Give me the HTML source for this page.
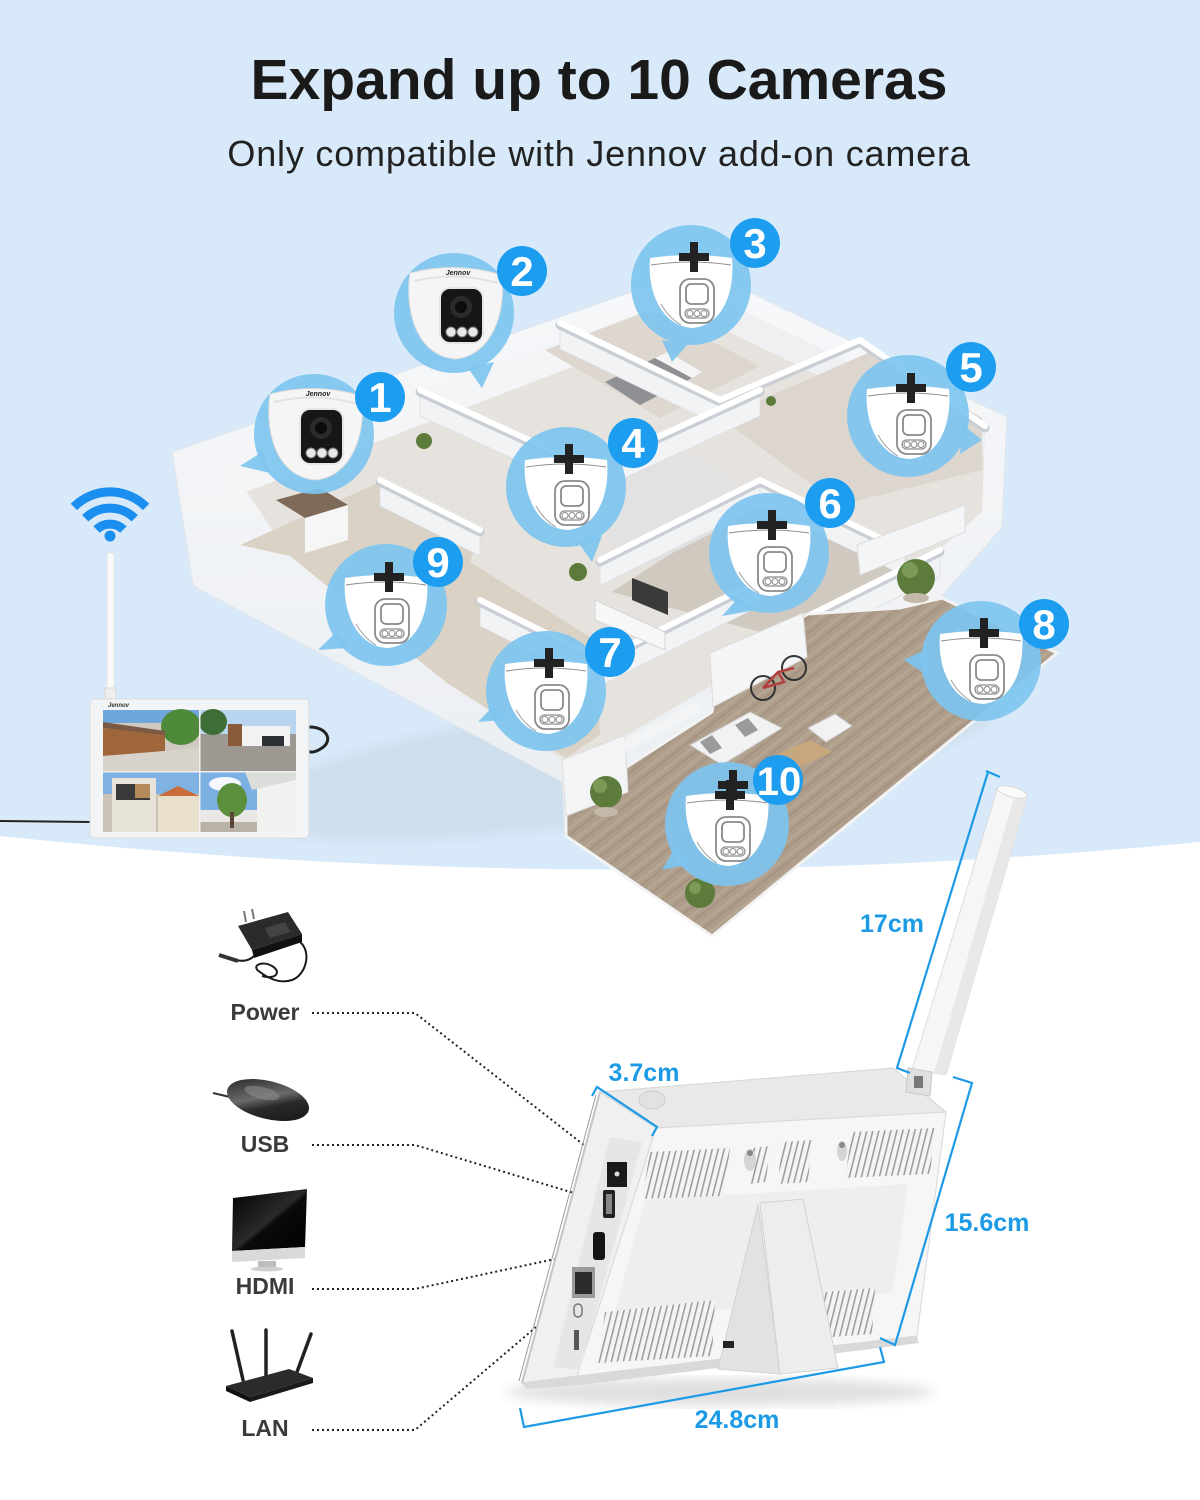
<!DOCTYPE html>
<html><head><meta charset="utf-8">
<style>
html,body{margin:0;padding:0;background:#fff;}
svg{display:block;}
text{font-family:"Liberation Sans",Arial,sans-serif;}
</style></head>
<body>
<svg width="1200" height="1500" viewBox="0 0 1200 1500" xmlns="http://www.w3.org/2000/svg">
<defs>
  <pattern id="wood" patternUnits="userSpaceOnUse" width="12" height="12" patternTransform="rotate(-38)">
    <rect width="12" height="12" fill="#ae9d8b"/>
    <rect width="12" height="1.2" y="0" fill="#a08f7d"/>
    <rect width="12" height="3" y="6" fill="#b5a593"/>
  </pattern>
  <pattern id="vent" patternUnits="userSpaceOnUse" width="6" height="80" patternTransform="skewX(-14)">
    <rect width="6" height="80" fill="#f4f4f4"/>
    <rect x="2" width="1.6" height="80" fill="#9c9c9c"/>
  </pattern>
  <linearGradient id="slab" x1="0" y1="0" x2="0" y2="1">
    <stop offset="0" stop-color="#f7f8fa"/><stop offset="1" stop-color="#e8ecf0"/>
  </linearGradient>
  <linearGradient id="mouseg" x1="0" y1="0" x2="1" y2="1">
    <stop offset="0" stop-color="#1c1c1c"/><stop offset="0.45" stop-color="#6a6a6a"/><stop offset="0.6" stop-color="#2a2a2a"/><stop offset="1" stop-color="#111"/>
  </linearGradient>
  <linearGradient id="imacg" x1="0" y1="0" x2="1" y2="1">
    <stop offset="0" stop-color="#000"/><stop offset="0.5" stop-color="#2a2a2a"/><stop offset="0.55" stop-color="#0a0a0a"/><stop offset="1" stop-color="#000"/>
  </linearGradient>
  <filter id="blur6"><feGaussianBlur stdDeviation="6"/></filter>
  <g id="dome">
    <path d="M-41,-30 Q0,-36 41,-30 C44,4 32,37 2,40 C-28,39 -44,6 -41,-30 Z" fill="#fff"/>
    <path d="M-40,-23 Q0,-29 40,-23" fill="none" stroke="#8d8d8d" stroke-width="1"/>
    <path d="M-30,16 Q-22,30 -10,37" fill="none" stroke="#a0a0a0" stroke-width="1"/>
    <rect x="-11" y="-9" width="34" height="44" rx="10" fill="#fff" stroke="#8a8a8a" stroke-width="1.8"/>
    <rect x="-5" y="-4" width="22" height="20" rx="5" fill="#fff" stroke="#8a8a8a" stroke-width="1.8"/>
    <rect x="-6" y="21" width="24" height="9" rx="4.5" fill="#fff" stroke="#8a8a8a" stroke-width="1.3"/>
    <circle cx="-1" cy="25.5" r="3" fill="none" stroke="#8a8a8a" stroke-width="1"/>
    <circle cx="6" cy="25.5" r="3" fill="none" stroke="#8a8a8a" stroke-width="1"/>
    <circle cx="13" cy="25.5" r="3" fill="none" stroke="#8a8a8a" stroke-width="1"/>
    <rect x="-12" y="-35" width="30" height="8" fill="#222"/>
    <rect x="-1" y="-46" width="8" height="30" fill="#222"/>
  </g>
</defs>

<!-- background -->
<rect width="1200" height="1500" fill="#ffffff"/>
<path d="M0,0 H1200 V842 Q600,900 0,836 Z" fill="#d8eaf9"/>

<!-- title -->
<text x="599" y="99" font-size="57" font-weight="bold" fill="#1a1a1a" text-anchor="middle">Expand up to 10 Cameras</text>
<text x="599" y="166" font-size="36" fill="#222" text-anchor="middle" letter-spacing="0.8">Only compatible with Jennov add-on camera</text>

<!-- ================= HOUSE ================= -->
<ellipse cx="620" cy="760" rx="380" ry="60" fill="#b9c9d8" opacity="0.35" filter="url(#blur6)" transform="rotate(-8 620 760)"/>
<path d="M172,452 L700,268 L1007,417 L1002,528 L940,598 L1057,653 L712,936 L565,836 L562,782 L193,586 Z" fill="url(#slab)" stroke="#dfe4ea" stroke-width="1"/>
<!-- interior floor -->
<path d="M218,468 L700,290 L985,428 L982,512 L930,558 L610,745 L566,762 L447,683 L290,556 L240,482 Z" fill="#e6e3de"/>
<!-- back wall inner faces -->
<path d="M218,468 L700,290 L700,318 L225,500 Z" fill="#f4f5f6"/>
<path d="M700,290 L985,428 L983,455 L700,318 Z" fill="#eef0f2"/>
<!-- beige living floor -->
<path d="M240,545 L380,482 L480,532 L470,562 L595,640 L600,735 L566,758 L447,683 L290,556 Z" fill="#dbd2c6"/>
<!-- bedroom top -->
<path d="M545,350 L650,310 L760,366 L660,418 Z" fill="#ddd7cf"/>
<path d="M605,382 L655,358 L692,378 L640,405 Z" fill="#8f9093"/>
<path d="M655,358 L668,352 L702,372 L692,378 Z" fill="#f4f4f4"/>
<!-- right rooms -->
<path d="M720,418 L870,352 L982,418 L982,470 L840,505 Z" fill="#dcd6ce"/>
<path d="M612,592 L750,502 L905,562 L790,640 Z" fill="#d0c9bf"/>
<path d="M600,485 L680,447 L735,480 L735,522 L652,563 L610,542 Z" fill="#e2e2e2"/>
<!-- kitchen -->
<path d="M276,500 L320,488 L348,505 L305,518 Z" fill="#7e6a58"/>
<path d="M305,518 L348,505 L348,540 L305,553 Z" fill="#f6f6f6"/>
<!-- interior wall faces -->
<g fill="#f2f3f4" stroke="#dadde0" stroke-width="0.8">
  <path d="M420,392 L590,470 L590,494 L420,416 Z"/>
  <path d="M560,325 L720,402 L720,426 L560,349 Z"/>
  <path d="M590,470 L760,392 L760,416 L590,494 Z"/>
  <path d="M600,562 L760,482 L760,506 L600,586 Z"/>
  <path d="M480,602 L600,662 L600,686 L480,626 Z"/>
  <path d="M600,662 L760,582 L760,606 L600,686 Z"/>
  <path d="M800,622 L940,552 L940,576 L800,646 Z"/>
  <path d="M380,482 L480,532 L480,556 L380,506 Z"/>
  <path d="M760,482 L905,552 L905,576 L760,506 Z"/>
</g>
<!-- interior walls -->
<g stroke="#c9ced4" stroke-width="9" stroke-linecap="round" fill="none">
  <path d="M420,392 L590,470"/><path d="M560,325 L720,402"/><path d="M720,402 L860,342"/>
  <path d="M590,470 L760,392"/><path d="M600,562 L760,482"/><path d="M760,482 L905,552"/>
  <path d="M480,602 L600,662"/><path d="M600,662 L760,582"/><path d="M800,622 L940,552"/>
  <path d="M380,482 L480,532"/><path d="M860,342 L985,428"/>
</g>
<g stroke="#ffffff" stroke-width="6" stroke-linecap="round" fill="none">
  <path d="M420,390 L590,468"/><path d="M560,323 L720,400"/><path d="M720,400 L860,340"/>
  <path d="M590,468 L760,390"/><path d="M600,560 L760,480"/><path d="M760,480 L905,550"/>
  <path d="M480,600 L600,660"/><path d="M600,660 L760,580"/><path d="M800,620 L940,550"/>
  <path d="M380,480 L480,530"/><path d="M860,340 L985,426"/>
</g>
<!-- tv -->
<path d="M632,578 L668,592 L668,615 L632,600 Z" fill="#3a3a3a"/>
<path d="M595,600 L665,632 L665,650 L595,620 Z" fill="#f7f7f7" stroke="#d5d5d5"/>
<!-- wood patio -->
<path d="M566,836 L566,790 L625,768 L712,712 L720,662 L808,614 L900,608 L942,598 L1057,653 L712,936 Z" fill="url(#wood)" stroke="#f3f3f3" stroke-width="3"/>
<!-- walls near patio -->
<path d="M710,653 L803,613 L807,657 L713,707 Z" fill="#f4f5f6" stroke="#dcdcdc"/>
<path d="M857,545 L965,505 L965,532 L860,575 Z" fill="#f4f5f6" stroke="#dcdcdc"/>
<path d="M562,760 L625,735 L628,792 L566,816 Z" fill="#f3f4f5" stroke="#dcdcdc"/>
<path d="M625,740 L700,700 L700,712 L625,752 Z" fill="#f3f4f5"/>
<!-- furniture -->
<path d="M690,745 L750,712 L782,728 L722,765 Z" fill="#f2f2f2" stroke="#c9c9c9"/>
<path d="M700,742 L712,735 L722,748 L710,754 Z" fill="#9a9a9a"/>
<path d="M735,725 L748,718 L758,730 L745,737 Z" fill="#9a9a9a"/>
<path d="M808,728 L835,714 L852,726 L826,742 Z" fill="#f2f2f2" stroke="#c9c9c9"/>
<path d="M775,755 L810,740 L832,752 L797,768 Z" fill="#c8a77c"/>
<!-- bike -->
<g fill="none" stroke="#333" stroke-width="2">
  <circle cx="763" cy="688" r="12"/><circle cx="794" cy="668" r="12"/>
</g>
<path d="M763,688 L778,672 L794,668 M778,672 L784,682 L763,688" stroke="#b0413e" stroke-width="2.5" fill="none"/>
<!-- plants -->
<g fill="#5d7c3b">
  <circle cx="424" cy="441" r="8"/><circle cx="578" cy="572" r="9"/>
  <circle cx="606" cy="792" r="16"/><circle cx="916" cy="578" r="19"/>
  <circle cx="700" cy="893" r="15"/><circle cx="771" cy="401" r="5"/>
</g>
<g fill="#7a9a55"><circle cx="600" cy="786" r="7"/><circle cx="910" cy="570" r="8"/><circle cx="695" cy="888" r="6"/></g>
<g fill="#c4b8a8"><ellipse cx="606" cy="812" rx="12" ry="5"/><ellipse cx="916" cy="598" rx="13" ry="5"/></g>

<!-- ================= BUBBLES ================= -->
<g fill="#7ec4ef" fill-opacity="0.92">
  <circle cx="314" cy="434" r="60"/><polygon points="262,452 240,466 270,473"/>
  <circle cx="454" cy="313" r="60"/><polygon points="468,368 482,388 494,362"/>
  <circle cx="691" cy="285" r="60"/><polygon points="662,340 672,362 688,344"/>
  <circle cx="566" cy="487" r="60"/><polygon points="578,542 592,562 602,536"/>
  <circle cx="908" cy="416" r="61"/><polygon points="962,424 982,440 960,454"/>
  <circle cx="769" cy="553" r="60"/><polygon points="738,598 722,616 756,610"/>
  <circle cx="546" cy="691" r="60"/><polygon points="494,705 478,722 504,720"/>
  <circle cx="981" cy="661" r="60"/><polygon points="928,648 904,660 928,676"/>
  <circle cx="386" cy="605" r="61"/><polygon points="336,632 318,650 348,648"/>
  <circle cx="727" cy="824" r="62"/><polygon points="676,846 662,870 692,864"/>
</g>

<!-- real cams 1 & 2 -->
<g transform="translate(314,434)">
  <path d="M-44,-40 Q2,-52 48,-38 C52,0 38,42 2,46 C-34,44 -50,4 -44,-40 Z" fill="#f5f5f5" stroke="#dcdcdc"/>
  <path d="M-40,-32 Q2,-42 44,-30" fill="none" stroke="#e2e2e2" stroke-width="2"/>
  <rect x="-15" y="-26" width="45" height="57" rx="11" fill="#e6e6e6"/>
  <rect x="-13" y="-24" width="41" height="53" rx="9" fill="#161616"/>
  <circle cx="7" cy="-6" r="11" fill="#2b2b2b"/><circle cx="7" cy="-6" r="6" fill="#0c0c0c"/>
  <circle cx="-3" cy="19" r="5" fill="#e8e8e8" stroke="#777"/><circle cx="8" cy="19" r="5" fill="#e8e8e8" stroke="#777"/><circle cx="19" cy="19" r="5" fill="#e8e8e8" stroke="#777"/>
  <text x="4" y="-38" font-size="7" font-weight="bold" font-style="italic" fill="#222" text-anchor="middle">Jennov</text>
</g>
<g transform="translate(454,313)">
  <path d="M-44,-40 Q2,-52 48,-38 C52,0 38,42 2,46 C-34,44 -50,4 -44,-40 Z" fill="#f5f5f5" stroke="#dcdcdc"/>
  <path d="M-40,-32 Q2,-42 44,-30" fill="none" stroke="#e2e2e2" stroke-width="2"/>
  <rect x="-15" y="-26" width="45" height="57" rx="11" fill="#e6e6e6"/>
  <rect x="-13" y="-24" width="41" height="53" rx="9" fill="#161616"/>
  <circle cx="7" cy="-6" r="11" fill="#2b2b2b"/><circle cx="7" cy="-6" r="6" fill="#0c0c0c"/>
  <circle cx="-3" cy="19" r="5" fill="#e8e8e8" stroke="#777"/><circle cx="8" cy="19" r="5" fill="#e8e8e8" stroke="#777"/><circle cx="19" cy="19" r="5" fill="#e8e8e8" stroke="#777"/>
  <text x="4" y="-38" font-size="7" font-weight="bold" font-style="italic" fill="#222" text-anchor="middle">Jennov</text>
</g>

<!-- outline domes -->
<use href="#dome" transform="translate(691,288)"/>
<use href="#dome" transform="translate(566,490)"/>
<use href="#dome" transform="translate(908,419)"/>
<use href="#dome" transform="translate(769,556)"/>
<use href="#dome" transform="translate(546,694)"/>
<use href="#dome" transform="translate(981,664)"/>
<use href="#dome" transform="translate(386,608)"/>
<use href="#dome" transform="translate(727,826)"/>

<!-- number badges -->
<g fill="#1c9df0">
  <circle cx="380" cy="397" r="25"/><circle cx="522" cy="271" r="25"/><circle cx="755" cy="243" r="25"/>
  <circle cx="633" cy="443" r="25"/><circle cx="971" cy="367" r="25"/><circle cx="830" cy="503" r="25"/>
  <circle cx="610" cy="652" r="25"/><circle cx="1044" cy="624" r="25"/><circle cx="438" cy="562" r="25"/>
  <circle cx="778" cy="780" r="25"/>
</g>
<g fill="#fff" font-size="42" font-weight="bold" text-anchor="middle">
  <text x="380" y="412">1</text><text x="522" y="286">2</text><text x="755" y="258">3</text>
  <text x="633" y="458">4</text><text x="971" y="382">5</text><text x="830" y="518">6</text>
  <text x="610" y="667">7</text><text x="1044" y="639">8</text><text x="438" y="577">9</text>
  <text x="779" y="795" font-size="40">10</text>
</g>
<rect x="718" y="781" width="30" height="8" fill="#222"/><rect x="729" y="770" width="8" height="30" fill="#222"/>

<!-- ================= MONITOR ================= -->
<rect x="107" y="553" width="7" height="146" fill="#fafafa" stroke="#e0e4e8"/>
<rect x="105" y="688" width="11" height="12" fill="#eeeeee" stroke="#d8d8d8"/>
<g fill="none" stroke="#1a8ff0" stroke-width="9">
  <path d="M96.6,529.6 A19,19 0 0 1 123.4,529.6"/>
  <path d="M85.3,518.3 A35,35 0 0 1 134.7,518.3"/>
  <path d="M73.9,506.9 A51,51 0 0 1 146.1,506.9"/>
</g>
<circle cx="110" cy="536" r="5.5" fill="#1a8ff0"/>
<path d="M0,821 L91,822" stroke="#222" stroke-width="2"/>
<path d="M308,727 C326,726 334,740 322,748 C316,752 311,753 308,751" stroke="#222" stroke-width="3" fill="none"/>
<rect x="90" y="699" width="219" height="139" rx="4" fill="#f3f4f5" stroke="#d7dadd"/>
<!-- TL -->
<rect x="103" y="710" width="96" height="61" fill="#cfc9c0"/>
<rect x="103" y="710" width="96" height="13" fill="#6fa6dc"/>
<ellipse cx="181" cy="727" rx="20" ry="18" fill="#4f8a3a"/>
<polygon points="103,722 165,731 165,736 103,728" fill="#7a5a45"/>
<polygon points="103,728 165,735 165,751 103,756" fill="#a0663b"/>
<polygon points="103,756 165,751 199,748 199,771 103,771" fill="#d7d2ca"/>
<!-- TR -->
<rect x="200" y="710" width="96" height="61" fill="#9d9891"/>
<rect x="200" y="710" width="96" height="24" fill="#b8d4ee"/>
<ellipse cx="213" cy="722" rx="14" ry="13" fill="#3e6e35"/>
<rect x="228" y="726" width="62" height="20" fill="#f2f2f2"/>
<rect x="228" y="724" width="14" height="22" fill="#8a5a3a"/>
<rect x="262" y="736" width="22" height="10" fill="#2d3136"/>
<!-- BL -->
<rect x="103" y="772" width="96" height="60" fill="#cbc3b8"/>
<rect x="103" y="772" width="96" height="22" fill="#7fb1e2"/>
<rect x="112" y="778" width="44" height="54" fill="#e8e3d9"/>
<rect x="116" y="784" width="34" height="16" fill="#3a3a3a"/>
<rect x="135" y="784" width="15" height="14" fill="#b58a5a"/>
<rect x="158" y="796" width="41" height="36" fill="#e8dfcc"/>
<polygon points="158,796 178,786 199,796" fill="#c96b3a"/>
<!-- BR -->
<rect x="200" y="772" width="96" height="60" fill="#7cb0e2"/>
<ellipse cx="225" cy="784" rx="16" ry="7" fill="#f4f7fb"/>
<rect x="200" y="810" width="96" height="22" fill="#e9e8e4"/>
<rect x="200" y="822" width="96" height="10" fill="#b9b2a6"/>
<ellipse cx="232" cy="800" rx="15" ry="17" fill="#5b8f3c"/>
<rect x="230" y="812" width="4" height="16" fill="#5a4632"/>
<rect x="257" y="772" width="39" height="60" fill="#f1f1ef"/>
<polygon points="245,772 296,772 296,780 252,790" fill="#dcdcda"/>
<rect x="199" y="710" width="1.5" height="122" fill="#f0f0f0"/>
<rect x="103" y="771" width="193" height="1.5" fill="#f0f0f0"/>
<text x="108" y="707" font-size="6" font-weight="bold" font-style="italic" fill="#333">Jennov</text>

<!-- ================= ACCESSORIES ================= -->
<g>
  <path d="M238,926 L288,912 L302,934 L252,950 Z" fill="#2b2b2b"/>
  <path d="M252,950 L302,934 L302,942 L254,958 Z" fill="#111"/>
  <path d="M265,928 L285,922 L290,932 L270,938 Z" fill="#444"/>
  <path d="M246,922 L244,911 M254,919 L252,909" stroke="#777" stroke-width="2"/>
  <path d="M300,942 C312,952 306,975 292,980 C280,984 268,978 260,972 C250,966 262,960 272,966 C282,972 276,980 262,976" stroke="#1a1a1a" stroke-width="2" fill="none"/>
  <path d="M254,956 C250,960 244,962 236,960" stroke="#1a1a1a" stroke-width="2" fill="none"/>
  <path d="M219,955 L238,961" stroke="#333" stroke-width="4"/>
</g>
<g>
  <path d="M213,1093 L230,1097" stroke="#333" stroke-width="2"/>
  <ellipse cx="268" cy="1100" rx="42" ry="19" fill="url(#mouseg)" transform="rotate(14 268 1100)"/>
  <ellipse cx="262" cy="1093" rx="18" ry="6" fill="#8a8a8a" opacity="0.6" transform="rotate(14 262 1093)"/>
</g>
<g>
  <polygon points="233,1198 307,1189 305,1247 232,1251" fill="url(#imacg)"/>
  <polygon points="232,1251 305,1247 305,1258 232,1262" fill="#d9d9d9"/>
  <rect x="258" y="1261" width="18" height="7" fill="#bdbdbd"/>
  <ellipse cx="267" cy="1269" rx="16" ry="2.5" fill="#cfcfcf"/>
</g>
<g>
  <path d="M243,1380 L232,1331 M266,1376 L266,1330 M297,1372 L311,1334" stroke="#222" stroke-width="3.5" stroke-linecap="round"/>
  <polygon points="226,1386 289,1369 313,1378 250,1397" fill="#2b2b2b"/>
  <polygon points="226,1386 250,1397 250,1402 226,1391" fill="#111"/>
  <polygon points="250,1397 313,1378 313,1383 250,1402" fill="#1a1a1a"/>
</g>
<g font-size="23" font-weight="bold" fill="#3b3b3b" text-anchor="middle">
  <text x="265" y="1020">Power</text>
  <text x="265" y="1152">USB</text>
  <text x="265" y="1294">HDMI</text>
  <text x="265" y="1436">LAN</text>
</g>
<g fill="none" stroke="#222" stroke-width="2" stroke-dasharray="2 3">
  <path d="M312,1013 H415 L612,1167"/>
  <path d="M312,1145 H415 L607,1203"/>
  <path d="M312,1289 H415 L597,1250"/>
  <path d="M312,1430 H415 L575,1294"/>
</g>

<!-- ================= DEVICE ================= -->
<ellipse cx="720" cy="1392" rx="215" ry="14" fill="#000" opacity="0.12" filter="url(#blur6)"/>
<polygon points="997,790 1027,797 946,1075 912,1070" fill="#f6f6f6" stroke="#dcdcdc"/>
<polygon points="1015,794 1027,797 946,1075 934,1073" fill="#e8e8e8"/>
<ellipse cx="1012" cy="792" rx="15" ry="5" fill="#fbfbfb" stroke="#dcdcdc" transform="rotate(15 1012 792)"/>
<polygon points="600,1092 893,1068 946,1112 656,1128" fill="#e9e9e9" stroke="#d6d6d6"/>
<polygon points="600,1092 656,1128 577,1376 522,1383" fill="#f0f0f0" stroke="#d6d6d6"/>
<polygon points="656,1128 946,1112 917,1336 577,1376" fill="#f6f6f6" stroke="#d8d8d8"/>
<polygon points="645,1200 908,1184 893,1292 612,1322" fill="#eeeeee"/>
<polygon points="522,1383 577,1376 917,1336 919,1343 580,1385 526,1389" fill="#d9d9d9"/>
<path d="M600,1092 L522,1383" stroke="#c4c4c4" stroke-width="2"/>
<path d="M596,1095 L519,1381" stroke="#9c9c9c" stroke-width="1"/>
<ellipse cx="652" cy="1100" rx="13" ry="9" fill="#e2e2e2" stroke="#cfcfcf"/>
<polygon points="908,1068 932,1072 930,1096 906,1092" fill="#e0e0e0" stroke="#c8c8c8"/>
<rect x="914" y="1076" width="9" height="12" fill="#777"/>
<polygon points="610,1137 642,1142 580,1370 553,1367" fill="#e6e6e6"/>
<rect x="607" y="1162" width="20" height="25" fill="#1a1a1a"/>
<circle cx="617" cy="1174" r="2.5" fill="#ddd"/>
<rect x="603" y="1190" width="12" height="28" rx="2" fill="#222"/>
<rect x="606" y="1194" width="6" height="20" fill="#888"/>
<rect x="593" y="1232" width="12" height="28" rx="3" fill="#151515"/>
<rect x="572" y="1267" width="23" height="31" fill="#9a9a9a"/>
<rect x="575" y="1272" width="17" height="22" fill="#2b2b2b"/>
<rect x="574" y="1304" width="8" height="13" rx="4" fill="none" stroke="#777" stroke-width="1.5"/>
<rect x="574" y="1330" width="5" height="20" fill="#555"/>
<polygon points="650,1152 730,1148 724,1196 642,1199" fill="url(#vent)"/>
<polygon points="753,1148 770,1146 766,1182 749,1184" fill="url(#vent)"/>
<polygon points="782,1142 812,1140 808,1182 778,1184" fill="url(#vent)"/>
<polygon points="852,1132 935,1128 930,1174 845,1178" fill="url(#vent)"/>
<polygon points="605,1312 715,1300 712,1356 598,1363" fill="url(#vent)"/>
<polygon points="825,1292 875,1288 872,1334 820,1338" fill="url(#vent)"/>
<ellipse cx="750" cy="1160" rx="6" ry="11" fill="#d4d4d4"/><circle cx="750" cy="1153" r="3" fill="#888"/>
<ellipse cx="842" cy="1151" rx="5" ry="10" fill="#d4d4d4"/><circle cx="842" cy="1145" r="3" fill="#888"/>
<polygon points="758,1205 780,1374 718,1369" fill="#e2e2e2" stroke="#d2d2d2"/>
<polygon points="760,1203 803,1199 838,1368 780,1374" fill="#ededed" stroke="#d2d2d2"/>
<rect x="723" y="1341" width="11" height="7" fill="#222"/>

<g stroke="#1d9ae6" stroke-width="2.2" fill="none">
  <path d="M986,771 L1000,777 M988,772 L897,1068 L910,1073"/>
  <path d="M592,1096 L597,1087 L657,1127 L652,1136"/>
  <path d="M953,1077 L972,1083 L895,1345 L880,1338"/>
  <path d="M520,1408 L524,1427 L884,1362 L880,1347"/>
</g>
<g fill="#1d9ae6" font-size="25" font-weight="bold" text-anchor="middle">
  <text x="892" y="932">17cm</text>
  <text x="644" y="1081">3.7cm</text>
  <text x="987" y="1231">15.6cm</text>
  <text x="737" y="1428">24.8cm</text>
</g>
</svg>
</body></html>
